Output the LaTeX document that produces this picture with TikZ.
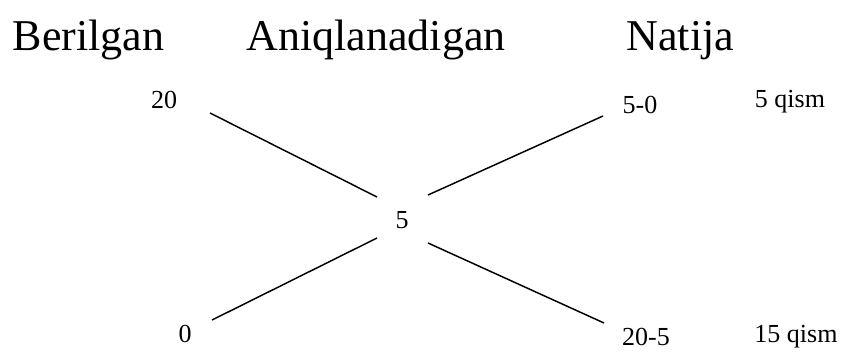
\documentclass[tikz,border=0pt]{standalone}
\usepackage{fontspec}
\setmainfont{Liberation Serif}
\usetikzlibrary{calc}
\tikzset{
  every picture/.append style = {line width=1pt},
  head/.style = {anchor=base west, inner sep=0pt, font=\fontsize{33}{40}\selectfont},
  num/.style  = {anchor=base, inner sep=0pt, font=\fontsize{19.5}{24}\selectfont},
  link/.style = {black, line width=1.1pt},
}
\begin{document}
\begin{tikzpicture}[x=0.75pt, y=-0.75pt]
  \useasboundingbox (0,0) rectangle (845,351);
  % column headings
  \node[head] (given) at (12,50) {Berilgan};
  \node[head] (sought) at (246,50) {Aniqlanadigan};
  \node[head] (result) at (626,50) {Natija};
  % numbers of the cross
  \node[num] (n20) at (164,108) {20};
  \node[num] (n0) at (185,342) {0};
  \node[num] (n5) at (402,228) {5};
  \node[num] (r50) at (640,113) {5-0};
  \node[num] (r205) at (646,345) {20-5};
  \node[num] (q5) at (790,107) {5 qism};
  \node[num] (q15) at (796,342) {15 qism};
  % the cross
  \draw[link] ($(n20.base)+(46,5)$) -- ($(n5.base)+(-25,-31)$);
  \draw[link] ($(n0.base)+(27,-22)$) -- ($(n5.base)+(-25,10)$);
  \draw[link] ($(n5.base)+(26,-33)$) -- ($(r50.base)+(-37,3)$);
  \draw[link] ($(n5.base)+(26,15)$) -- ($(r205.base)+(-42,-22)$);
\end{tikzpicture}
\end{document}
